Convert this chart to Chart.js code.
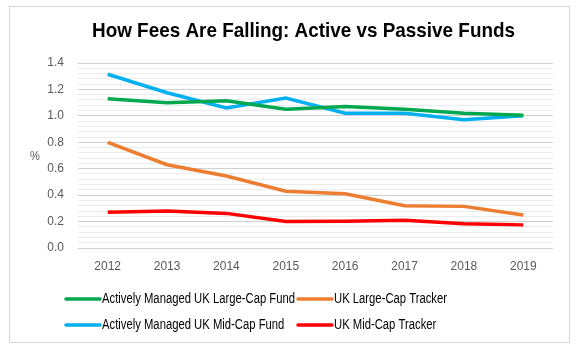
<!DOCTYPE html>
<html>
<head>
<meta charset="utf-8">
<script src="https://cdn.jsdelivr.net/npm/chart.js@4/dist/chart.umd.min.js"></script>
<style>
    html, body { margin: 0; padding: 0; background: #fff; }
    #moldura {
        position: absolute; left: 9px; top: 6px; width: 559px; height: 335px;
        border: 1px solid #d4d4d4;
    }
    #caixa { position: absolute; left: 0; top: 0; width: 580px; height: 350px; }
</style>
</head>
<body>
<div id="moldura"></div>
<div id="caixa"><canvas id="grafico" width="580" height="350"></canvas></div>
<script>
const anos = ['2012', '2013', '2014', '2015', '2016', '2017', '2018', '2019'];
const ativoGrande = [1.13, 1.10, 1.115, 1.05, 1.07, 1.05, 1.02, 1.005];
const rastreadorGrande = [0.80, 0.63, 0.545, 0.43, 0.41, 0.32, 0.315, 0.25];
const ativoMedio = [1.315, 1.175, 1.06, 1.135, 1.02, 1.02, 0.97, 1.0];
const rastreadorMedio = [0.27, 0.28, 0.262, 0.20, 0.202, 0.21, 0.184, 0.175];

const nomes = [
    'Actively Managed UK Large-Cap Fund',
    'UK Large-Cap Tracker',
    'Actively Managed UK Mid-Cap Fund',
    'UK Mid-Cap Tracker'
];
const cores = ['#00a94f', '#ed7d31', '#00b0f0', '#ff0000'];
const titulo = 'How Fees Are Falling: Active vs Passive Funds';
const fonte = '"Liberation Sans", Arial, sans-serif';

function ehMaior(v) {
    return Math.abs(Math.round(v / 0.2) * 0.2 - v) < 1e-6;
}

// texto estreito (nao ha fonte "narrow" instalada)
function textoEstreito(ctx, txt, x, y, fator) {
    ctx.save();
    ctx.translate(x, y);
    ctx.scale(fator, 1);
    ctx.fillText(txt, 0, 0);
    ctx.restore();
}

// titulo, "%" e legenda desenhados a mao
const extras = {
    id: 'extras',
    afterDraw(chart) {
        const ctx = chart.ctx;
        ctx.save();
        ctx.fillStyle = '#000';
        ctx.font = 'bold 21px ' + fonte;
        ctx.textAlign = 'center';
        ctx.textBaseline = 'middle';
        ctx.fillText(titulo, 303.5, 31, 423);

        ctx.fillStyle = '#595959';
        ctx.font = '13px ' + fonte;
        textoEstreito(ctx, '%', 35, 156, 0.85);

        const colX = [66, 298];
        const linY = [299, 325];
        ctx.font = '14px ' + fonte;
        ctx.textAlign = 'left';
        const fator = 193 / ctx.measureText(nomes[0]).width;
        chart.data.datasets.forEach((ds, i) => {
            const x = colX[i % 2];
            const y = linY[Math.floor(i / 2)];
            ctx.strokeStyle = ds.borderColor;
            ctx.lineWidth = 3.5;
            ctx.lineCap = 'round';
            ctx.beginPath();
            ctx.moveTo(x, y);
            ctx.lineTo(x + 34, y);
            ctx.stroke();
            ctx.fillStyle = '#000';
            textoEstreito(ctx, ds.label, x + 36, y, fator);
        });
        ctx.restore();
    }
};

const series = [ativoGrande, rastreadorGrande, ativoMedio, rastreadorMedio];

new Chart(document.getElementById('grafico'), {
    type: 'line',
    data: {
        labels: anos,
        datasets: series.map((valores, i) => ({
            label: nomes[i],
            data: valores,
            borderColor: cores[i],
            backgroundColor: cores[i],
            borderWidth: 3.5,
            pointRadius: 0,
            tension: 0
        }))
    },
    options: {
        responsive: false,
        animation: false,
        layout: { padding: { left: 38, right: 27, top: 63, bottom: 72 } },
        plugins: {
            legend: { display: false },
            title: { display: false },
            tooltip: { enabled: false }
        },
        scales: {
            x: {
                offset: true,
                grid: { display: false, drawTicks: false },
                border: { display: false },
                afterFit: s => { s.height = 30; },
                ticks: { color: '#595959', padding: 11, font: { family: fonte, size: 12 } }
            },
            y: {
                min: 0,
                max: 1.4,
                afterFit: s => { s.width = 40; },
                border: { display: false },
                grid: {
                    drawTicks: false,
                    lineWidth: 1,
                    color: c => ehMaior(c.tick.value) ? '#d0d0d0' : '#ececec'
                },
                ticks: {
                    stepSize: 0.04,
                    autoSkip: false,
                    padding: 14,
                    color: '#595959',
                    font: { family: fonte, size: 12 },
                    callback: v => ehMaior(v) ? v.toFixed(1) : ''
                }
            }
        }
    },
    plugins: [extras]
});
</script>
</body>
</html>
